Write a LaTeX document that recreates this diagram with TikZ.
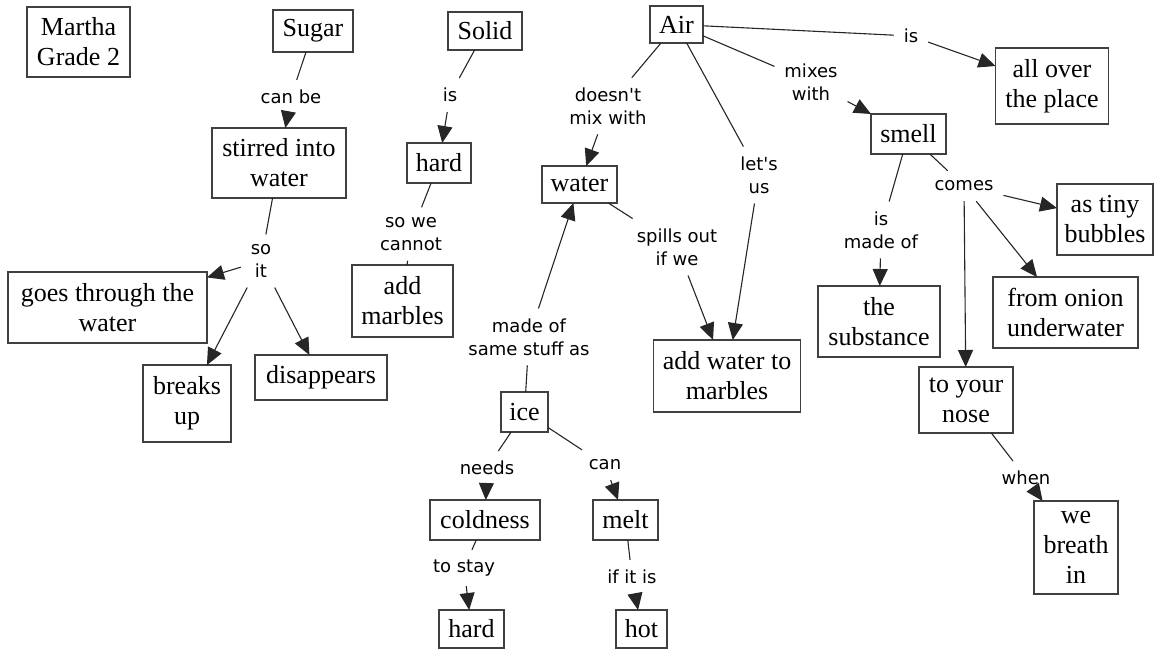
\documentclass[tikz,border=0pt]{standalone}
\usepackage{fontspec}
\setmainfont{Liberation Serif}
\newfontfamily\labfam{DejaVu Sans}
\usetikzlibrary{arrows.meta}
\newcommand\bxf{\fontsize{26pt}{30pt}\selectfont}
\newcommand\lbf{\labfam\fontsize{18pt}{23pt}\selectfont}
\tikzset{
  box/.style={draw=black!75, line width=1.5pt, fill=white, inner sep=0pt, outer sep=0pt, align=center, font=\bxf},
  lbl/.style={inner sep=1pt, outer sep=9pt, align=center, font=\lbf},
  con/.style={line width=1.1pt, draw=black!85},
  arr/.style={con, -{Triangle[length=17pt,width=15pt]}},
}
\begin{document}
\begin{tikzpicture}[x=1pt,y=-1pt]
\useasboundingbox (0,0) rectangle (1154,649);
% boxes
\node[box, minimum width=103pt, minimum height=70pt] (martha) at (78.5,42) {Martha\\Grade 2};
\node[box, minimum width=80pt, minimum height=42pt] (sugar) at (313,31) {Sugar};
\node[box, minimum width=134pt, minimum height=70pt] (stirred) at (279,163) {stirred into\\water};
\node[box, minimum width=74pt, minimum height=38pt] (solid) at (485,31) {Solid};
\node[box, minimum width=64pt, minimum height=40pt] (hardA) at (439,163) {hard};
\node[box, minimum width=75pt, minimum height=37pt] (water) at (579.5,184.5) {water};
\node[box, minimum width=53pt, minimum height=37pt] (air) at (676.5,24.5) {Air};
\node[box, minimum width=113pt, minimum height=76pt] (allover) at (1052,86) {all over\\the place};
\node[box, minimum width=75pt, minimum height=40pt] (smell) at (908.5,134) {smell};
\node[box, minimum width=96pt, minimum height=71pt] (bubbles) at (1105,219.5) {as tiny\\bubbles};
\node[box, minimum width=199pt, minimum height=71pt] (goes) at (107.5,307.5) {goes through the\\water};
\node[box, minimum width=88pt, minimum height=77pt] (breaks) at (187,403.5) {breaks\\up};
\node[box, minimum width=132pt, minimum height=45pt] (disap) at (321,377.5) {disappears};
\node[box, minimum width=101pt, minimum height=72pt] (addm) at (402.5,301) {add\\marbles};
\node[box, minimum width=147pt, minimum height=72pt] (awm) at (727,376) {add water to\\marbles};
\node[box, minimum width=122pt, minimum height=71pt] (subst) at (879,321.5) {the\\substance};
\node[box, minimum width=145pt, minimum height=71pt] (onion) at (1065.5,312.5) {from onion\\underwater};
\node[box, minimum width=94pt, minimum height=66pt] (nose) at (966,400) {to your\\nose};
\node[box, minimum width=84pt, minimum height=93pt] (breath) at (1076,547.5) {we\\breath\\in};
\node[box, minimum width=47pt, minimum height=40pt] (ice) at (524.5,412) {ice};
\node[box, minimum width=110pt, minimum height=40pt] (cold) at (485,520) {coldness};
\node[box, minimum width=65pt, minimum height=40pt] (melt) at (625.5,520) {melt};
\node[box, minimum width=65pt, minimum height=38pt] (hardB) at (471.5,629) {hard};
\node[box, minimum width=51pt, minimum height=38pt] (hot) at (641.5,629) {hot};
% labels
\node[lbl] (canbe) at (291,97) {can be};
\node[lbl] (soit) at (261,261) {so\\it};
\node[lbl] (isA) at (450,95) {is};
\node[lbl] (sowe) at (411,234) {so we\\cannot};
\node[lbl] (dmw) at (608,106) {doesn't\\mix with};
\node[lbl] (letus) at (759,175) {let's\\us};
\node[lbl] (isB) at (911,36) {is};
\node[lbl] (mixes) at (811,82) {mixes\\with};
\node[lbl] (ismade) at (881,230) {is\\made of};
\node[lbl] (comes) at (964,186) {comes};
\node[lbl] (when) at (1026,478) {when};
\node[lbl] (spills) at (677,247) {spills out\\if we};
\node[lbl] (madeof) at (529,337) {made of\\same stuff as};
\node[lbl] (needs) at (487,468) {needs};
\node[lbl] (can) at (605,465) {can};
\node[lbl] (tostay) at (464,568) {to stay};
\node[lbl] (ifit) at (632,577) {if it is};
% connectors
\draw[con] (sugar) -- (canbe);
\draw[arr] (canbe) -- (stirred);
\draw[con] (stirred) -- (soit);
\draw[arr] (soit) -- (goes);
\draw[arr] (soit) -- (breaks);
\draw[arr] (soit) -- (disap);
\draw[con] (solid) -- (isA);
\draw[arr] (isA) -- (hardA);
\draw[con] (hardA) -- (sowe);
\draw[con] (sowe) -- (addm);
\draw[con] (air) -- (dmw);
\draw[arr] (dmw) -- (water);
\draw[con] (air) -- (letus);
\draw[arr] (letus) -- (awm);
\draw[con] (air) -- (isB);
\draw[arr] (isB) -- (allover);
\draw[con] (air) -- (mixes);
\draw[arr] (mixes) -- (smell);
\draw[con] (smell) -- (ismade);
\draw[arr] (ismade) -- (subst);
\draw[con] (smell) -- (comes);
\draw[arr] (comes) -- (bubbles);
\draw[arr] (comes) -- (onion);
\draw[arr] (comes) -- (nose);
\draw[con] (nose) -- (when);
\draw[arr] (when) -- (breath);
\draw[con] (water) -- (spills);
\draw[arr] (spills) -- (awm);
\draw[con] (ice) -- (madeof);
\draw[arr] (madeof) -- (water);
\draw[con] (ice) -- (needs);
\draw[arr] (needs) -- (cold);
\draw[con] (cold) -- (tostay);
\draw[arr] (tostay) -- (hardB);
\draw[con] (ice) -- (can);
\draw[arr] (can) -- (melt);
\draw[con] (melt) -- (ifit);
\draw[arr] (ifit) -- (hot);
\end{tikzpicture}
\end{document}
